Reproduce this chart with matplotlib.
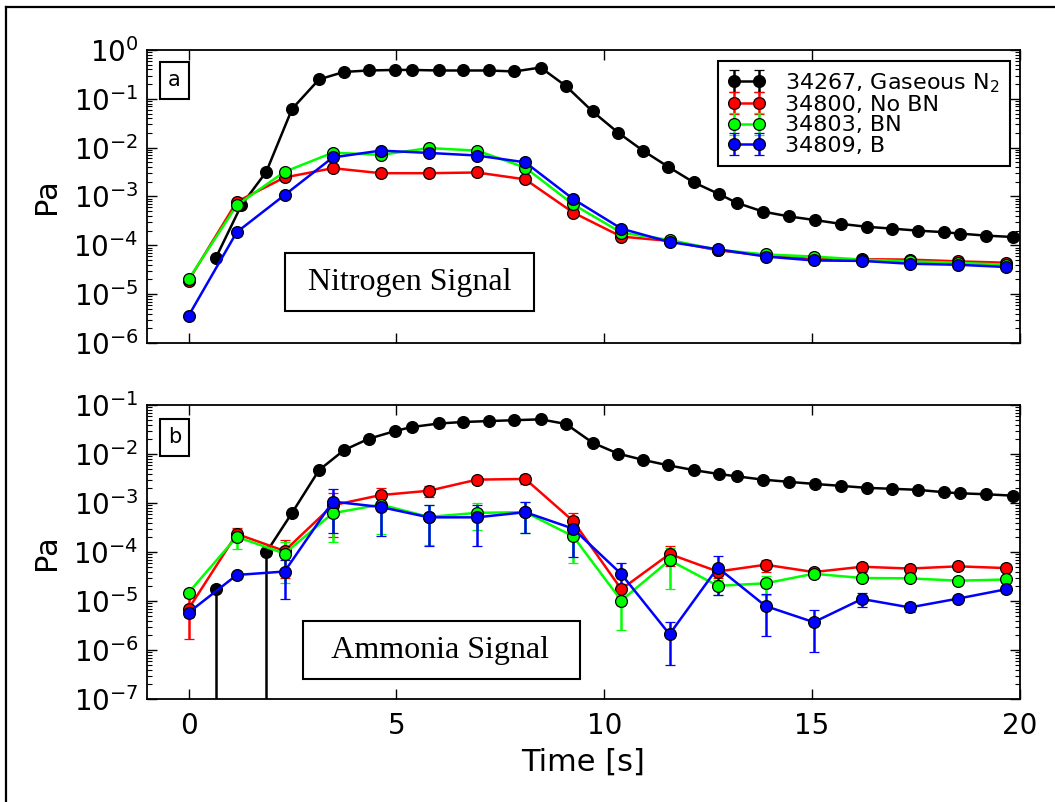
import numpy as np
import matplotlib
matplotlib.use('Agg')
import matplotlib.pyplot as plt
from matplotlib.lines import Line2D
from matplotlib.ticker import LogLocator, NullFormatter

# time bases [s]
t_gas = [0.65, 1.27, 1.87, 2.49, 3.14, 3.74, 4.33, 4.97, 5.37, 6.03, 6.60,
         7.22, 7.84, 8.47, 9.08, 9.72, 10.33, 10.93, 11.53, 12.15, 12.76,
         13.19, 13.82, 14.45, 15.06, 15.69, 16.31, 16.92, 17.54, 18.17,
         18.55, 19.18, 19.84]
t_run = [0, 1.16, 2.31, 3.47, 4.62, 5.78, 6.94, 8.10, 9.25, 10.41, 11.57,
         12.73, 13.88, 15.04, 16.20, 17.35, 18.51, 19.67]

labels = ['34267, Gaseous N$_2$', '34800, No BN', '34803, BN', '34809, B']
colors = ['k', '#ff0000', '#00ff00', '#0000ff']

# (a) nitrogen signal [Pa]
n2_gas = [5.4e-5, 6.6e-4, 3.2e-3, 6.2e-2, 0.25, 0.355, 0.38, 0.39, 0.39, 0.38,
          0.38, 0.38, 0.363, 0.437, 0.182, 0.055, 0.0204, 8.7e-3, 4.1e-3,
          1.95e-3, 1.12e-3, 7.4e-4, 4.9e-4, 3.9e-4, 3.3e-4, 2.75e-4, 2.4e-4,
          2.2e-4, 2.0e-4, 1.86e-4, 1.74e-4, 1.58e-4, 1.48e-4]
n2_nobn = [1.9e-5, 7.8e-4, 2.45e-3, 3.8e-3, 3.0e-3, 3.0e-3, 3.1e-3, 2.24e-3,
           4.7e-4, 1.51e-4, 1.23e-4, 7.9e-5, 6.2e-5, 5.2e-5, 5.2e-5, 5.1e-5,
           4.7e-5, 4.4e-5]
n2_bn = [2.0e-5, 6.6e-4, 3.2e-3, 7.9e-3, 7.1e-3, 9.8e-3, 8.7e-3, 3.9e-3,
         6.9e-4, 1.82e-4, 1.29e-4, 8.1e-5, 6.5e-5, 5.9e-5, 5.1e-5, 4.7e-5,
         4.4e-5, 4.0e-5]
n2_b = [3.6e-6, 1.86e-4, 1.07e-3, 6.3e-3, 8.7e-3, 7.8e-3, 6.9e-3, 5.0e-3,
        8.9e-4, 2.2e-4, 1.17e-4, 8.3e-5, 5.9e-5, 4.9e-5, 4.8e-5, 4.2e-5,
        4.0e-5, 3.6e-5]

# (b) ammonia signal [Pa]
nh3_gas = [1.74e-5, np.nan, 9.8e-5, 6.3e-4, 4.7e-3, 1.2e-2, 2.04e-2, 2.95e-2,
           3.55e-2, 4.2e-2, 4.5e-2, 4.7e-2, 4.9e-2, 5.1e-2, 4.1e-2, 1.7e-2,
           1.02e-2, 7.6e-3, 5.9e-3, 4.7e-3, 3.9e-3, 3.5e-3, 3.0e-3, 2.7e-3,
           2.45e-3, 2.24e-3, 2.04e-3, 1.95e-3, 1.86e-3, 1.66e-3, 1.58e-3,
           1.51e-3, 1.41e-3]
nh3_gas_lo = [1e-4, np.nan, 3e-4] + [0] * 30
nh3_gas_hi = [0] * 33
nh3_nobn = [6.9e-6, 2.34e-4, 1.05e-4, 9.0e-4, 1.45e-3, 1.78e-3, 3.0e-3, 3.1e-3,
            4.3e-4, 1.74e-5, 9.1e-5, 4.0e-5, 5.5e-5, 3.9e-5, 5.0e-5, 4.6e-5,
            5.1e-5, 4.7e-5]
nh3_nobn_err = [5.2e-6, 7e-5, 7.5e-5, 7e-4, 5.5e-4, 4.5e-4, 4e-4, 6e-4, 1.9e-4,
                5e-6, 4e-5, 1e-5, 1.5e-5, 5e-6, 1e-5, 6e-6, 5e-6, 5e-6]
nh3_bn = [1.48e-5, 2.04e-4, 9.3e-5, 6.2e-4, 9.3e-4, 5.2e-4, 6.3e-4, 6.5e-4,
          2.1e-4, 1.02e-5, 6.8e-5, 2.04e-5, 2.3e-5, 3.6e-5, 2.95e-5, 2.9e-5,
          2.6e-5, 2.75e-5]
nh3_bn_err = [3e-6, 9e-5, 7e-5, 4.6e-4, 7e-4, 3.8e-4, 3.5e-4, 4e-4, 1.5e-4,
              7.6e-6, 5e-5, 7e-6, 1e-5, 5e-6, 3e-6, 3e-6, 3e-6, 3e-6]
nh3_b = [5.8e-6, 3.4e-5, 4.0e-5, 1.07e-3, 8.3e-4, 5.1e-4, 5.1e-4, 6.5e-4,
         3.0e-4, 3.55e-5, 2.1e-6, 4.8e-5, 7.9e-6, 3.7e-6, 1.1e-5, 7.4e-6,
         1.12e-5, 1.74e-5]
nh3_b_err = [1e-6, 3e-6, 2.9e-5, 8.3e-4, 6.2e-4, 3.8e-4, 3.8e-4, 4e-4, 2.2e-4,
             2.5e-5, 1.6e-6, 3.5e-5, 6e-6, 2.8e-6, 3.5e-6, 1.5e-6, 1.5e-6, 1.5e-6]

plt.rcParams['font.family'] = 'DejaVu Sans'

fig = plt.figure(figsize=(10.55, 8.02), dpi=100)
ax1 = fig.add_axes([0.1393, 0.5723, 0.8275, 0.3654])
ax2 = fig.add_axes([0.1393, 0.1284, 0.8275, 0.3666], sharex=ax1)

style = dict(fmt='-o', ms=8.5, mec='k', mew=0.9, lw=1.8, elinewidth=1.8,
             capsize=3.5, capthick=1.5)

top = [(t_gas, n2_gas), (t_run, n2_nobn), (t_run, n2_bn), (t_run, n2_b)]
for (t, y), c, lab in zip(top, colors, labels):
    ax1.errorbar(t, y, yerr=0, color=c, mfc=c, label=lab, **style)

ax2.errorbar(t_gas, nh3_gas, yerr=[nh3_gas_lo, nh3_gas_hi], color='k', mfc='k', **style)
bot = [(nh3_nobn, nh3_nobn_err), (nh3_bn, nh3_bn_err), (nh3_b, nh3_b_err)]
for (y, e), c in zip(bot, colors[1:]):
    ax2.errorbar(t_run, y, yerr=e, color=c, mfc=c, **style)

for ax, lims in [(ax1, (1e-6, 1)), (ax2, (1e-7, 1e-1))]:
    ax.set_yscale('log')
    ax.yaxis.set_major_locator(LogLocator(base=10, numticks=20))
    ax.yaxis.set_minor_locator(LogLocator(base=10, subs=np.arange(2, 10), numticks=20))
    ax.yaxis.set_minor_formatter(NullFormatter())
    ax.set_ylim(*lims)
    ax.set_xlim(-1, 20)
    ax.set_xticks([0, 5, 10, 15, 20])
    ax.tick_params(which='both', direction='in', top=True, right=True)
    ax.tick_params(which='major', length=7, width=1, labelsize=20, pad=6)
    ax.tick_params(which='minor', length=3.5, width=0.8)
    ax.tick_params(axis='x', pad=9)
    ax.set_ylabel('Pa', fontsize=22, labelpad=9)
    for s in ax.spines.values():
        s.set_linewidth(1.3)

ax1.tick_params(labelbottom=False)
ax2.set_xlabel('Time [s]', fontsize=22, labelpad=6)

leg = ax1.legend(loc='upper right', bbox_to_anchor=(0.9885, 0.9625),
                 borderaxespad=0, fontsize=16, numpoints=2, handlelength=1.7,
                 labelspacing=0.02, handletextpad=0.9, borderpad=0.45,
                 fancybox=False, edgecolor='k', framealpha=1)
leg.get_frame().set_linewidth(1.5)

box = dict(boxstyle='square,pad=0.4', fc='white', ec='k', lw=1.5)
ax1.text(0.0315, 0.896, 'a', transform=ax1.transAxes, fontsize=15,
         ha='center', va='center', bbox=box)
ax2.text(0.0315, 0.890, 'b', transform=ax2.transAxes, fontsize=15,
         ha='center', va='center', bbox=box)
tbox = dict(boxstyle='square,pad=0.45', fc='white', ec='k', lw=1.5)
ax1.text(0.3007, 0.2075, ' Nitrogen Signal ', transform=ax1.transAxes,
         fontsize=23, family='Liberation Serif', ha='center', va='center', bbox=tbox)
ax2.text(0.3373, 0.1656, '  Ammonia Signal  ', transform=ax2.transAxes,
         fontsize=23, family='Liberation Serif', ha='center', va='center', bbox=tbox)

# frame around the figure (left and top edges visible)
x0, y0 = 6 / 1055, 1 - 7 / 802
fig.add_artist(Line2D([x0, x0], [0, y0], color='k', lw=1.6, transform=fig.transFigure))
fig.add_artist(Line2D([x0, 1], [y0, y0], color='k', lw=1.6, transform=fig.transFigure))

fig.savefig('out.png', dpi=100)
